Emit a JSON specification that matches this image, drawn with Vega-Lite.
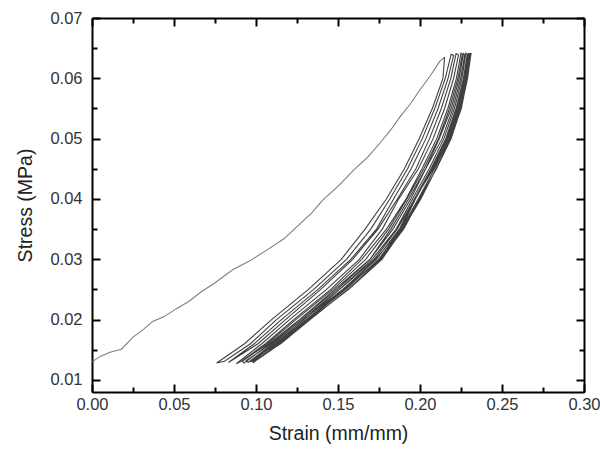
{
  "$schema": "https://vega.github.io/schema/vega-lite/v6.json",
  "width": 492,
  "height": 374,
  "autosize": {"type": "none"},
  "padding": {"left": 92, "top": 18, "right": 16, "bottom": 58},
  "config": {
    "view": {"stroke": null},
    "axis": {
      "labelFont": "Liberation Sans",
      "titleFont": "Liberation Sans",
      "labelFontSize": 16.5,
      "titleFontSize": 19.5,
      "titleFontWeight": "normal",
      "labelColor": "#333333",
      "titleColor": "#222222",
      "domainColor": "black",
      "domainWidth": 2,
      "tickColor": "black",
      "tickWidth": 2,
      "grid": false
    }
  },
  "data": {"values": [
    {"s":"a","o":1,"x":0.000,"y":0.0130},{"s":"a","o":2,"x":0.005,"y":0.0139},{"s":"a","o":3,"x":0.011,"y":0.0146},{"s":"a","o":4,"x":0.018,"y":0.0151},{"s":"a","o":5,"x":0.025,"y":0.0171},{"s":"a","o":6,"x":0.031,"y":0.0183},{"s":"a","o":7,"x":0.037,"y":0.0197},{"s":"a","o":8,"x":0.044,"y":0.0205},{"s":"a","o":9,"x":0.052,"y":0.0219},{"s":"a","o":10,"x":0.059,"y":0.0230},{"s":"a","o":11,"x":0.066,"y":0.0245},{"s":"a","o":12,"x":0.075,"y":0.0261},{"s":"a","o":13,"x":0.086,"y":0.0283},{"s":"a","o":14,"x":0.096,"y":0.0297},{"s":"a","o":15,"x":0.107,"y":0.0316},{"s":"a","o":16,"x":0.117,"y":0.0334},{"s":"a","o":17,"x":0.127,"y":0.0359},{"s":"a","o":18,"x":0.134,"y":0.0377},{"s":"a","o":19,"x":0.141,"y":0.0399},{"s":"a","o":20,"x":0.150,"y":0.0421},{"s":"a","o":21,"x":0.160,"y":0.0449},{"s":"a","o":22,"x":0.168,"y":0.0469},{"s":"a","o":23,"x":0.176,"y":0.0494},{"s":"a","o":24,"x":0.182,"y":0.0514},{"s":"a","o":25,"x":0.188,"y":0.0537},{"s":"a","o":26,"x":0.194,"y":0.0557},{"s":"a","o":27,"x":0.200,"y":0.0581},{"s":"a","o":28,"x":0.206,"y":0.0603},{"s":"a","o":29,"x":0.212,"y":0.0628},{"s":"a","o":30,"x":0.215,"y":0.0635},

    {"s":"b","o":31,"x":0.2150,"y":0.0635},{"s":"b","o":32,"x":0.2140,"y":0.060},{"s":"b","o":33,"x":0.2075,"y":0.055},{"s":"b","o":34,"x":0.1995,"y":0.050},{"s":"b","o":35,"x":0.1905,"y":0.045},{"s":"b","o":36,"x":0.1795,"y":0.040},{"s":"b","o":37,"x":0.1665,"y":0.035},{"s":"b","o":38,"x":0.1520,"y":0.030},{"s":"b","o":39,"x":0.1320,"y":0.025},{"s":"b","o":40,"x":0.1095,"y":0.020},{"s":"b","o":41,"x":0.0930,"y":0.016},{"s":"b","o":42,"x":0.0760,"y":0.0128},

    {"s":"b","o":43,"x":0.0808,"y":0.0131},{"s":"b","o":44,"x":0.0966,"y":0.016},{"s":"b","o":45,"x":0.1125,"y":0.020},{"s":"b","o":46,"x":0.1352,"y":0.025},{"s":"b","o":47,"x":0.1552,"y":0.030},{"s":"b","o":48,"x":0.1700,"y":0.035},{"s":"b","o":49,"x":0.1816,"y":0.040},{"s":"b","o":50,"x":0.1924,"y":0.045},{"s":"b","o":51,"x":0.2014,"y":0.050},{"s":"b","o":52,"x":0.2090,"y":0.055},{"s":"b","o":53,"x":0.2154,"y":0.060},{"s":"b","o":54,"x":0.2190,"y":0.0640},

    {"s":"b","o":55,"x":0.2205,"y":0.0638},{"s":"b","o":56,"x":0.2171,"y":0.060},{"s":"b","o":57,"x":0.2110,"y":0.055},{"s":"b","o":58,"x":0.2036,"y":0.050},{"s":"b","o":59,"x":0.1946,"y":0.045},{"s":"b","o":60,"x":0.1839,"y":0.040},{"s":"b","o":61,"x":0.1735,"y":0.035},{"s":"b","o":62,"x":0.1578,"y":0.030},{"s":"b","o":63,"x":0.1378,"y":0.025},{"s":"b","o":64,"x":0.1155,"y":0.020},{"s":"b","o":65,"x":0.0989,"y":0.016},{"s":"b","o":66,"x":0.0832,"y":0.0129},

    {"s":"b","o":67,"x":0.0856,"y":0.0133},{"s":"b","o":68,"x":0.1012,"y":0.016},{"s":"b","o":69,"x":0.1180,"y":0.020},{"s":"b","o":70,"x":0.1395,"y":0.025},{"s":"b","o":71,"x":0.1590,"y":0.030},{"s":"b","o":72,"x":0.1744,"y":0.035},{"s":"b","o":73,"x":0.1862,"y":0.040},{"s":"b","o":74,"x":0.1975,"y":0.045},{"s":"b","o":75,"x":0.2058,"y":0.050},{"s":"b","o":76,"x":0.2130,"y":0.055},{"s":"b","o":77,"x":0.2188,"y":0.060},{"s":"b","o":78,"x":0.2220,"y":0.0641},

    {"s":"b","o":79,"x":0.2235,"y":0.0639},{"s":"b","o":80,"x":0.2205,"y":0.060},{"s":"b","o":81,"x":0.2150,"y":0.055},{"s":"b","o":82,"x":0.2080,"y":0.050},{"s":"b","o":83,"x":0.1990,"y":0.045},{"s":"b","o":84,"x":0.1870,"y":0.040},{"s":"b","o":85,"x":0.1770,"y":0.035},{"s":"b","o":86,"x":0.1630,"y":0.030},{"s":"b","o":87,"x":0.1430,"y":0.025},{"s":"b","o":88,"x":0.1205,"y":0.020},{"s":"b","o":89,"x":0.1035,"y":0.016},{"s":"b","o":90,"x":0.0880,"y":0.0127},

    {"s":"b","o":91,"x":0.0904,"y":0.0130},{"s":"b","o":92,"x":0.1058,"y":0.016},{"s":"b","o":93,"x":0.1230,"y":0.020},{"s":"b","o":94,"x":0.1456,"y":0.025},{"s":"b","o":95,"x":0.1645,"y":0.030},{"s":"b","o":96,"x":0.1796,"y":0.035},{"s":"b","o":97,"x":0.1915,"y":0.040},{"s":"b","o":98,"x":0.2012,"y":0.045},{"s":"b","o":99,"x":0.2102,"y":0.050},{"s":"b","o":100,"x":0.2170,"y":0.055},{"s":"b","o":101,"x":0.2222,"y":0.060},{"s":"b","o":102,"x":0.2250,"y":0.0642},

    {"s":"b","o":103,"x":0.2258,"y":0.0640},{"s":"b","o":104,"x":0.2231,"y":0.060},{"s":"b","o":105,"x":0.2180,"y":0.055},{"s":"b","o":106,"x":0.2113,"y":0.050},{"s":"b","o":107,"x":0.2023,"y":0.045},{"s":"b","o":108,"x":0.1920,"y":0.040},{"s":"b","o":109,"x":0.1809,"y":0.035},{"s":"b","o":110,"x":0.1669,"y":0.030},{"s":"b","o":111,"x":0.1469,"y":0.025},{"s":"b","o":112,"x":0.1243,"y":0.020},{"s":"b","o":113,"x":0.1070,"y":0.016},{"s":"b","o":114,"x":0.0916,"y":0.0131},

    {"s":"b","o":115,"x":0.0928,"y":0.0128},{"s":"b","o":116,"x":0.1081,"y":0.016},{"s":"b","o":117,"x":0.1265,"y":0.020},{"s":"b","o":118,"x":0.1482,"y":0.025},{"s":"b","o":119,"x":0.1695,"y":0.030},{"s":"b","o":120,"x":0.1822,"y":0.035},{"s":"b","o":121,"x":0.1931,"y":0.040},{"s":"b","o":122,"x":0.2034,"y":0.045},{"s":"b","o":123,"x":0.2118,"y":0.050},{"s":"b","o":124,"x":0.2190,"y":0.055},{"s":"b","o":125,"x":0.2239,"y":0.060},{"s":"b","o":126,"x":0.2265,"y":0.0641},

    {"s":"b","o":127,"x":0.2273,"y":0.0639},{"s":"b","o":128,"x":0.2248,"y":0.060},{"s":"b","o":129,"x":0.2200,"y":0.055},{"s":"b","o":130,"x":0.2135,"y":0.050},{"s":"b","o":131,"x":0.2035,"y":0.045},{"s":"b","o":132,"x":0.1943,"y":0.040},{"s":"b","o":133,"x":0.1835,"y":0.035},{"s":"b","o":134,"x":0.1695,"y":0.030},{"s":"b","o":135,"x":0.1495,"y":0.025},{"s":"b","o":136,"x":0.1268,"y":0.020},{"s":"b","o":137,"x":0.1093,"y":0.016},{"s":"b","o":138,"x":0.0940,"y":0.0132},

    {"s":"b","o":139,"x":0.0952,"y":0.0129},{"s":"b","o":140,"x":0.1104,"y":0.016},{"s":"b","o":141,"x":0.1280,"y":0.020},{"s":"b","o":142,"x":0.1508,"y":0.025},{"s":"b","o":143,"x":0.1708,"y":0.030},{"s":"b","o":144,"x":0.1855,"y":0.035},{"s":"b","o":145,"x":0.1954,"y":0.040},{"s":"b","o":146,"x":0.2056,"y":0.045},{"s":"b","o":147,"x":0.2146,"y":0.050},{"s":"b","o":148,"x":0.2210,"y":0.055},{"s":"b","o":149,"x":0.2256,"y":0.060},{"s":"b","o":150,"x":0.2280,"y":0.0642},

    {"s":"b","o":151,"x":0.2288,"y":0.0640},{"s":"b","o":152,"x":0.2265,"y":0.060},{"s":"b","o":153,"x":0.2220,"y":0.055},{"s":"b","o":154,"x":0.2157,"y":0.050},{"s":"b","o":155,"x":0.2067,"y":0.045},{"s":"b","o":156,"x":0.1966,"y":0.040},{"s":"b","o":157,"x":0.1861,"y":0.035},{"s":"b","o":158,"x":0.1721,"y":0.030},{"s":"b","o":159,"x":0.1510,"y":0.025},{"s":"b","o":160,"x":0.1293,"y":0.020},{"s":"b","o":161,"x":0.1116,"y":0.016},{"s":"b","o":162,"x":0.0964,"y":0.0130},

    {"s":"b","o":163,"x":0.0976,"y":0.0133},{"s":"b","o":164,"x":0.1127,"y":0.016},{"s":"b","o":165,"x":0.1305,"y":0.020},{"s":"b","o":166,"x":0.1534,"y":0.025},{"s":"b","o":167,"x":0.1734,"y":0.030},{"s":"b","o":168,"x":0.1874,"y":0.035},{"s":"b","o":169,"x":0.1965,"y":0.040},{"s":"b","o":170,"x":0.2078,"y":0.045},{"s":"b","o":171,"x":0.2168,"y":0.050},{"s":"b","o":172,"x":0.2230,"y":0.055},{"s":"b","o":173,"x":0.2273,"y":0.060},{"s":"b","o":174,"x":0.2295,"y":0.0641},

    {"s":"b","o":175,"x":0.2303,"y":0.0640},{"s":"b","o":176,"x":0.2282,"y":0.060},{"s":"b","o":177,"x":0.2240,"y":0.055},{"s":"b","o":178,"x":0.2179,"y":0.050},{"s":"b","o":179,"x":0.2089,"y":0.045},{"s":"b","o":180,"x":0.1989,"y":0.040},{"s":"b","o":181,"x":0.1887,"y":0.035},{"s":"b","o":182,"x":0.1747,"y":0.030},{"s":"b","o":183,"x":0.1547,"y":0.025},{"s":"b","o":184,"x":0.1318,"y":0.020},{"s":"b","o":185,"x":0.1139,"y":0.016},{"s":"b","o":186,"x":0.0988,"y":0.0131},

    {"s":"b","o":187,"x":0.1000,"y":0.0134},{"s":"b","o":188,"x":0.1150,"y":0.016},{"s":"b","o":189,"x":0.1330,"y":0.020},{"s":"b","o":190,"x":0.1560,"y":0.025},{"s":"b","o":191,"x":0.1760,"y":0.030},{"s":"b","o":192,"x":0.1900,"y":0.035},{"s":"b","o":193,"x":0.2000,"y":0.040},{"s":"b","o":194,"x":0.2100,"y":0.045},{"s":"b","o":195,"x":0.2190,"y":0.050},{"s":"b","o":196,"x":0.2250,"y":0.055},{"s":"b","o":197,"x":0.2290,"y":0.060},{"s":"b","o":198,"x":0.2310,"y":0.0640},

    {"s":"b","o":199,"x":0.2298,"y":0.0639},{"s":"b","o":200,"x":0.2276,"y":0.060},{"s":"b","o":201,"x":0.2234,"y":0.055},{"s":"b","o":202,"x":0.2172,"y":0.050},{"s":"b","o":203,"x":0.2082,"y":0.045},{"s":"b","o":204,"x":0.1968,"y":0.040},{"s":"b","o":205,"x":0.1879,"y":0.035},{"s":"b","o":206,"x":0.1755,"y":0.030},{"s":"b","o":207,"x":0.1539,"y":0.025},{"s":"b","o":208,"x":0.1310,"y":0.020},{"s":"b","o":209,"x":0.1132,"y":0.016},{"s":"b","o":210,"x":0.0981,"y":0.0128},

    {"s":"b","o":211,"x":0.0993,"y":0.0132},{"s":"b","o":212,"x":0.1143,"y":0.016},{"s":"b","o":213,"x":0.1323,"y":0.020},{"s":"b","o":214,"x":0.1538,"y":0.025},{"s":"b","o":215,"x":0.1752,"y":0.030},{"s":"b","o":216,"x":0.1892,"y":0.035},{"s":"b","o":217,"x":0.1993,"y":0.040},{"s":"b","o":218,"x":0.2101,"y":0.045},{"s":"b","o":219,"x":0.2183,"y":0.050},{"s":"b","o":220,"x":0.2244,"y":0.055},{"s":"b","o":221,"x":0.2285,"y":0.060},{"s":"b","o":222,"x":0.2306,"y":0.0641},

    {"s":"b","o":223,"x":0.2292,"y":0.0640},{"s":"b","o":224,"x":0.2270,"y":0.060},{"s":"b","o":225,"x":0.2226,"y":0.055},{"s":"b","o":226,"x":0.2164,"y":0.050},{"s":"b","o":227,"x":0.2074,"y":0.045},{"s":"b","o":228,"x":0.1972,"y":0.040},{"s":"b","o":229,"x":0.1885,"y":0.035},{"s":"b","o":230,"x":0.1729,"y":0.030},{"s":"b","o":231,"x":0.1529,"y":0.025},{"s":"b","o":232,"x":0.1290,"y":0.020},{"s":"b","o":233,"x":0.1122,"y":0.016},{"s":"b","o":234,"x":0.0971,"y":0.0130},

    {"s":"b","o":235,"x":0.1005,"y":0.0133},{"s":"b","o":236,"x":0.1148,"y":0.016},{"s":"b","o":237,"x":0.1325,"y":0.020},{"s":"b","o":238,"x":0.1565,"y":0.025},{"s":"b","o":239,"x":0.1768,"y":0.030},{"s":"b","o":240,"x":0.1895,"y":0.035},{"s":"b","o":241,"x":0.2005,"y":0.040},{"s":"b","o":242,"x":0.2098,"y":0.045},{"s":"b","o":243,"x":0.2185,"y":0.050},{"s":"b","o":244,"x":0.2252,"y":0.055},{"s":"b","o":245,"x":0.2288,"y":0.060},{"s":"b","o":246,"x":0.2312,"y":0.0642}
  ]},
  "layer": [
    {
      "mark": {"type": "line", "strokeWidth": 1.1, "opacity": 0.9},
      "encoding": {
        "x": {
          "field": "x", "type": "quantitative",
          "scale": {"domain": [0, 0.3], "nice": false, "zero": false},
          "axis": {
            "orient": "bottom",
            "title": "Strain (mm/mm)",
            "titlePadding": 12,
            "labelPadding": 12,
            "labelFlush": false,
            "values": [0,0.025,0.05,0.075,0.1,0.125,0.15,0.175,0.2,0.225,0.25,0.275,0.3],
            "labelExpr": "abs(datum.value*20 - round(datum.value*20)) < 0.01 ? format(datum.value, '.2f') : ''",
            "tickSize": {"condition": {"test": "abs(datum.value*20 - round(datum.value*20)) > 0.01", "value": -5}, "value": -8}
          }
        },
        "y": {
          "field": "y", "type": "quantitative",
          "scale": {"domain": [0.008, 0.07], "nice": false, "zero": false},
          "axis": {
            "orient": "left",
            "title": "Stress (MPa)",
            "titlePadding": 14,
            "labelPadding": 18,
            "values": [0.01,0.015,0.02,0.025,0.03,0.035,0.04,0.045,0.05,0.055,0.06,0.065,0.07],
            "labelExpr": "abs(datum.value*100 - round(datum.value*100)) < 0.01 ? format(datum.value, '.2f') : ''",
            "tickSize": {"condition": {"test": "abs(datum.value*100 - round(datum.value*100)) > 0.01", "value": -5}, "value": -8}
          }
        },
        "order": {"field": "o", "type": "quantitative"},
        "color": {"field": "s", "type": "nominal", "scale": {"domain": ["a","b"], "range": ["#707070", "#2b2b2b"]}, "legend": null}
      }
    },
    {
      "mark": {"type": "line", "opacity": 0},
      "encoding": {
        "x": {
          "field": "x", "type": "quantitative",
          "axis": {
            "orient": "top", "title": null, "labels": false,
            "values": [0,0.025,0.05,0.075,0.1,0.125,0.15,0.175,0.2,0.225,0.25,0.275,0.3],
            "tickSize": {"condition": {"test": "abs(datum.value*20 - round(datum.value*20)) > 0.01", "value": -5}, "value": -8}
          }
        },
        "y": {
          "field": "y", "type": "quantitative",
          "axis": {
            "orient": "right", "title": null, "labels": false,
            "values": [0.01,0.015,0.02,0.025,0.03,0.035,0.04,0.045,0.05,0.055,0.06,0.065,0.07],
            "tickSize": {"condition": {"test": "abs(datum.value*100 - round(datum.value*100)) > 0.01", "value": -5}, "value": -8}
          }
        },
        "order": {"field": "o", "type": "quantitative"}
      }
    }
  ],
  "resolve": {"axis": {"x": "independent", "y": "independent"}}
}
